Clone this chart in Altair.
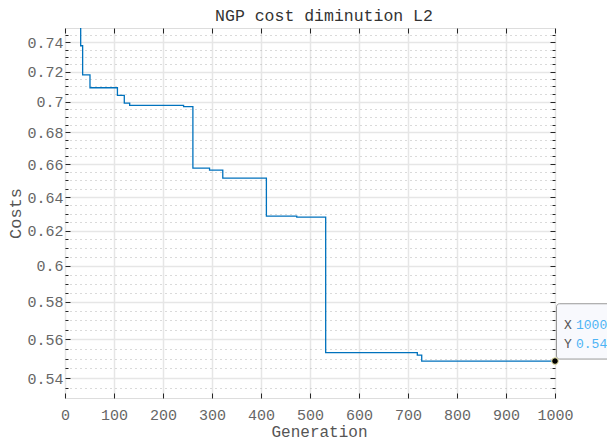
import altair as alt
import pandas as pd

# ---- data (step changes of the best cost) ----
# the first value lies above the top of the axis (the line enters from the top edge)
generations = [31, 32, 36, 51, 107, 121, 132, 242, 261, 295, 322, 411, 473, 532, 719, 728, 1000]
costs = [0.80, 0.7376, 0.7177, 0.7091, 0.7040, 0.6990, 0.6975, 0.6966, 0.6576,
         0.6564, 0.6515, 0.6286, 0.6280, 0.5531, 0.5518, 0.5487, 0.5487]

x_ticks = [0, 100, 200, 300, 400, 500, 600, 700, 800, 900, 1000]
y_ticks = [0.54, 0.56, 0.58, 0.60, 0.62, 0.64, 0.66, 0.68, 0.70, 0.72, 0.74]
y_minor = [round(0.53 + 0.005 * i, 3) for i in range(1, 44)]
y_minor = [v for v in y_minor if all(abs(v - m) > 1e-9 for m in y_ticks)]

tip_gen = [1000]
tip_cost = [0.5487]
tip_xlabel = ["X"]
tip_ylabel = ["Y"]
tip_xvalue = ["1000"]
tip_yvalue = ["0.54"]

df = pd.DataFrame({"Generation": generations, "Costs": costs})
tip_df = pd.DataFrame({"Generation": tip_gen, "Costs": tip_cost, "xl": tip_xlabel,
                       "yl": tip_ylabel, "xv": tip_xvalue, "yv": tip_yvalue})

FONT = "Liberation Mono"
INK = "#262626"
xscale = alt.Scale(domain=[0, 1000], nice=False, zero=False)
yscale = alt.Scale(type="log", domain=[0.53, 0.75], nice=False, zero=False, clamp=True)


def xenc(axis):
    return alt.X("Generation:Q", scale=xscale, axis=axis)


def yenc(axis):
    return alt.Y("Costs:Q", scale=yscale, axis=axis)


base = alt.Chart(df)

main = base.mark_line(interpolate="step-after", color="#0072BD", strokeWidth=1.3, clip=True).encode(
    x=xenc(alt.Axis(orient="bottom", values=x_ticks, format="d", title="Generation",
                    grid=True, gridColor="#e6e6e6", gridWidth=1.5,
                    ticks=False, tickSize=0, domain=False,
                    labelFont=FONT, labelFontSize=15, labelColor="#666666",
                    labelPadding=16, labelBaseline="middle", labelFlush=False,
                    titleFont=FONT, titleFontSize=16, titleFontWeight="normal",
                    titleColor="#555555", titleX=254, titleY=38,
                    titleBaseline="alphabetic", titleAlign="center")),
    y=yenc(alt.Axis(orient="left", values=y_ticks, format="~g", title="Costs",
                    grid=True, gridColor="#e6e6e6", gridWidth=1.5,
                    ticks=False, tickSize=0, domain=False,
                    labelFont=FONT, labelFontSize=15, labelColor="#666666",
                    labelPadding=2, labelFlush=False,
                    titleFont=FONT, titleFontSize=17, titleFontWeight="normal",
                    titleColor="#555555", titleX=-50, titleY=185, titleAngle=270,
                    titleBaseline="middle", titleAlign="center")),
)

minor_grid = base.mark_line(opacity=0).encode(
    x=xenc(None),
    y=yenc(alt.Axis(orient="left", values=y_minor, grid=True, gridColor="#b4b4b4",
                    gridDash=[1, 4], gridWidth=1, ticks=False, labels=False,
                    domain=False, title=None)),
)


def tick_axis(orient, values, size):
    return alt.Axis(orient=orient, values=values, ticks=True, tickSize=size, offset=-size,
                    tickColor=INK, tickWidth=1, labels=False, domain=False,
                    grid=False, title=None)


def tick_layer(xaxis, yaxis):
    return base.mark_line(opacity=0).encode(x=xenc(xaxis), y=yenc(yaxis))


t1 = tick_layer(tick_axis("bottom", x_ticks, 5), tick_axis("left", y_ticks, 5))
t2 = tick_layer(tick_axis("top", x_ticks, 5), tick_axis("right", y_ticks, 5))
t3 = tick_layer(None, tick_axis("left", y_minor, 3))
t4 = tick_layer(None, tick_axis("right", y_minor, 3))

tip = alt.Chart(tip_df)
tip_enc = dict(x=xenc(None), y=yenc(None))

box = tip.mark_rect(fill="#f8f9fd", stroke="#9a9a9a", strokeWidth=1, cornerRadius=3,
                    xOffset=1.5, x2Offset=90, yOffset=-57.3, y2Offset=-2, clip=False).encode(
    x2=alt.X2("Generation:Q"), y2=alt.Y2("Costs:Q"), **tip_enc)

dot = tip.mark_point(shape="circle", filled=True, fill="black", stroke="#f2eeb0",
                     strokeWidth=1, size=45, opacity=1).encode(**tip_enc)


def tip_text(field, dx, dy, color):
    return tip.mark_text(align="left", baseline="middle", dx=dx, dy=dy, font=FONT,
                         fontSize=13, color=color).encode(text=f"{field}:N", **tip_enc)


tx1 = tip_text("xl", 9, -36.3, "#555555")
tx2 = tip_text("yl", 9, -17.3, "#555555")
tx3 = tip_text("xv", 21, -36.3, "#4db4f5")
tx4 = tip_text("yv", 21, -17.3, "#4db4f5")

chart = alt.layer(main, minor_grid, t1, t2, t3, t4, box, dot, tx1, tx2, tx3, tx4).resolve_axis(
    x="independent", y="independent"
).properties(
    width=490, height=370,
    title=alt.TitleParams("NGP cost diminution L2", font=FONT, fontSize=16.5,
                          fontWeight="normal", color="#333333", anchor="middle",
                          dx=14, offset=-10, baseline="alphabetic"),
    autosize=alt.AutoSizeParams(type="none"),
    padding={"left": 57, "top": 20, "right": 52, "bottom": 42},
).configure_view(stroke=INK, strokeWidth=1).configure(background="white")

chart.save("out.html", embed_options={"renderer": "svg", "actions": False})
